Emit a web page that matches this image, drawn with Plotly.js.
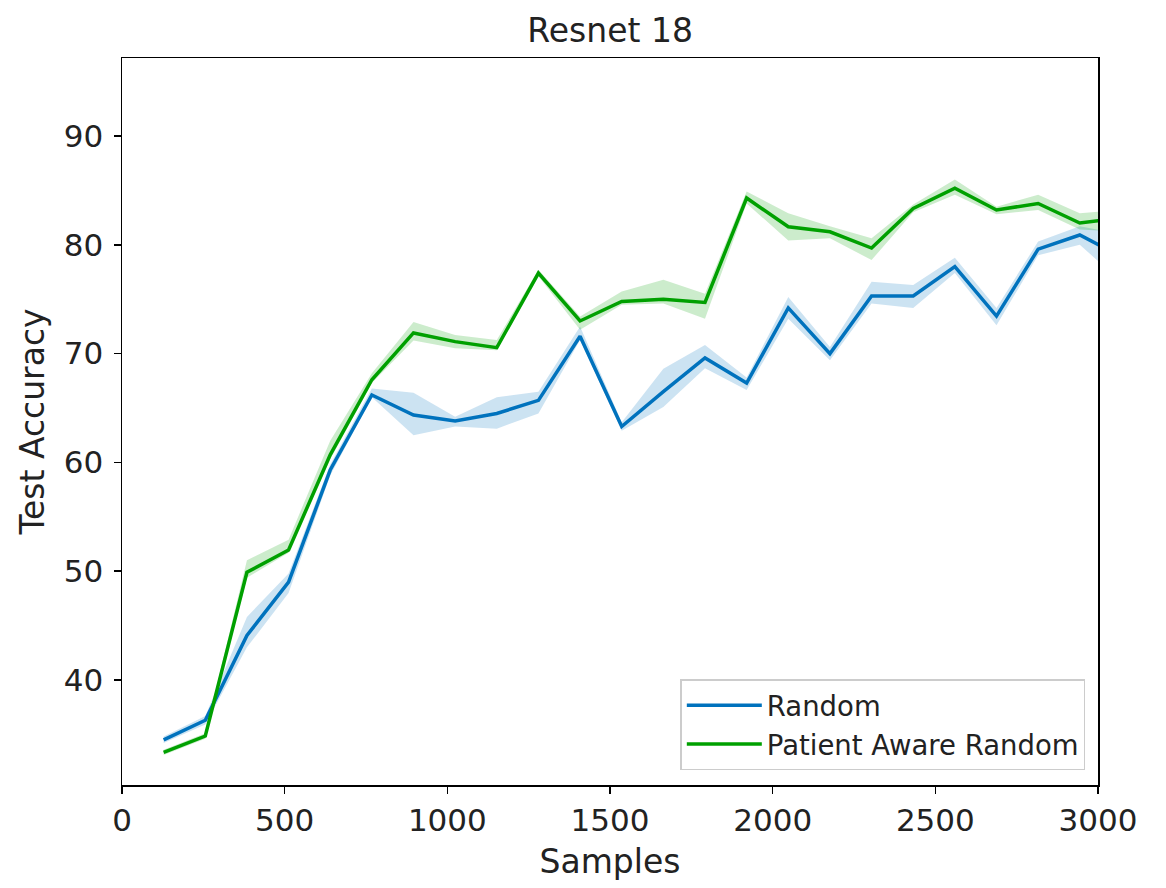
<!DOCTYPE html>
<html>
<head>
<meta charset="utf-8">
<script src="https://cdn.plot.ly/plotly-3.0.1.min.js"></script>
<style>html,body{margin:0;padding:0;background:#fff;}#chart{width:1166px;height:888px;}</style>
</head>
<body>
<div id="chart"></div>
<script>
const samples = [128,256,384,512,640,768,896,1024,1152,1280,1408,1536,1664,1792,1920,2048,2176,2304,2432,2560,2688,2816,2944,3072];

const randomMean  = [34.5,36.3,44.1,49.0,59.3,66.2,64.35,63.8,64.5,65.7,71.6,63.3,66.5,69.6,67.3,74.2,70.0,75.3,75.3,78.0,73.45,79.6,80.9,78.9];
const randomUpper = [34.8,36.7,45.8,49.8,59.8,66.8,66.4,64.2,66.0,66.5,72.5,63.7,68.6,70.8,67.8,75.2,70.6,76.6,76.3,78.8,74.2,80.3,81.7,81.0];
const randomLower = [34.2,35.9,43.0,48.0,58.8,66.0,62.5,63.3,63.1,64.5,71.25,62.9,65.1,68.65,66.65,73.2,69.4,74.6,74.2,77.4,72.6,79.05,80.0,76.6];

const parMean  = [33.35,34.85,49.9,51.95,60.7,67.6,71.9,71.1,70.55,77.4,73.0,74.8,75.0,74.7,84.3,81.66,81.2,79.7,83.35,85.2,83.2,83.8,82.0,82.5];
const parUpper = [33.6,35.1,51.0,52.9,62.0,68.2,72.9,71.7,71.25,77.7,73.4,75.7,76.8,75.5,84.9,82.9,81.7,80.6,83.7,86.0,83.5,84.6,82.9,83.2];
const parLower = [33.1,34.6,49.4,51.7,60.3,67.3,71.2,70.5,70.3,77.1,72.2,74.5,74.6,73.2,83.8,80.4,80.6,78.6,83.0,84.6,82.8,83.2,81.4,81.2];

const seriesNames = ["Random", "Patient Aware Random"];
const xTicks = [0,500,1000,1500,2000,2500,3000];
const yTicks = [40,50,60,70,80,90];

const BLUE = "#0072bd", GREEN = "#00a000";
const FONT = "DejaVu Sans, sans-serif";

function band(upper, lower, fill) {
  return [
    {x: samples, y: upper, mode: "lines", line: {width: 0, color: fill}, showlegend: false, hoverinfo: "skip"},
    {x: samples, y: lower, mode: "lines", line: {width: 0, color: fill}, fill: "tonexty", fillcolor: fill, showlegend: false, hoverinfo: "skip"}
  ];
}

const traces = [
  ...band(randomUpper, randomLower, "rgba(0,114,189,0.2)"),
  ...band(parUpper, parLower, "rgba(0,160,0,0.2)"),
  {x: samples, y: randomMean, mode: "lines", name: seriesNames[0], line: {color: BLUE, width: 3.5}},
  {x: samples, y: parMean, mode: "lines", name: seriesNames[1], line: {color: GREEN, width: 3.5}}
];

const axisCommon = {
  showgrid: false, zeroline: false, showline: true, mirror: true,
  linecolor: "#000", linewidth: 1.5, ticks: "outside", ticklen: 7, tickwidth: 1.5, tickcolor: "#000",
  tickfont: {family: FONT, size: 31, color: "#222"}
};

const layout = {
  width: 1166, height: 888,
  margin: {l: 122, r: 68, t: 58, b: 103},
  paper_bgcolor: "#fff", plot_bgcolor: "#fff",
  font: {family: FONT, color: "#222"},
  title: {text: "Resnet 18", font: {family: FONT, size: 33, color: "#222"}, x: 0.5233, xanchor: "center", y: 0.966, yanchor: "middle"},
  xaxis: Object.assign({}, axisCommon, {
    range: [0, 3000], tickvals: xTicks, ticktext: xTicks.map(String),
    title: {text: "Samples", font: {family: FONT, size: 33, color: "#222"}, standoff: 13}
  }),
  yaxis: Object.assign({}, axisCommon, {
    range: [30.35, 97.17], tickvals: yTicks, ticktext: yTicks.map(String),
    ticklabelstandoff: 4,
    title: {text: "Test Accuracy", font: {family: FONT, size: 33, color: "#222"}, standoff: 9}
  }),
  legend: {
    x: 0.987, xanchor: "right", y: 0.02, yanchor: "bottom",
    traceorder: "normal", itemwidth: 75,
    bgcolor: "rgba(255,255,255,0.8)", bordercolor: "#cccccc", borderwidth: 1.5,
    font: {family: FONT, size: 27.5, color: "#222"}
  },
  showlegend: true
};

Plotly.newPlot("chart", traces, layout, {displayModeBar: false, staticPlot: true});
</script>
</body>
</html>
